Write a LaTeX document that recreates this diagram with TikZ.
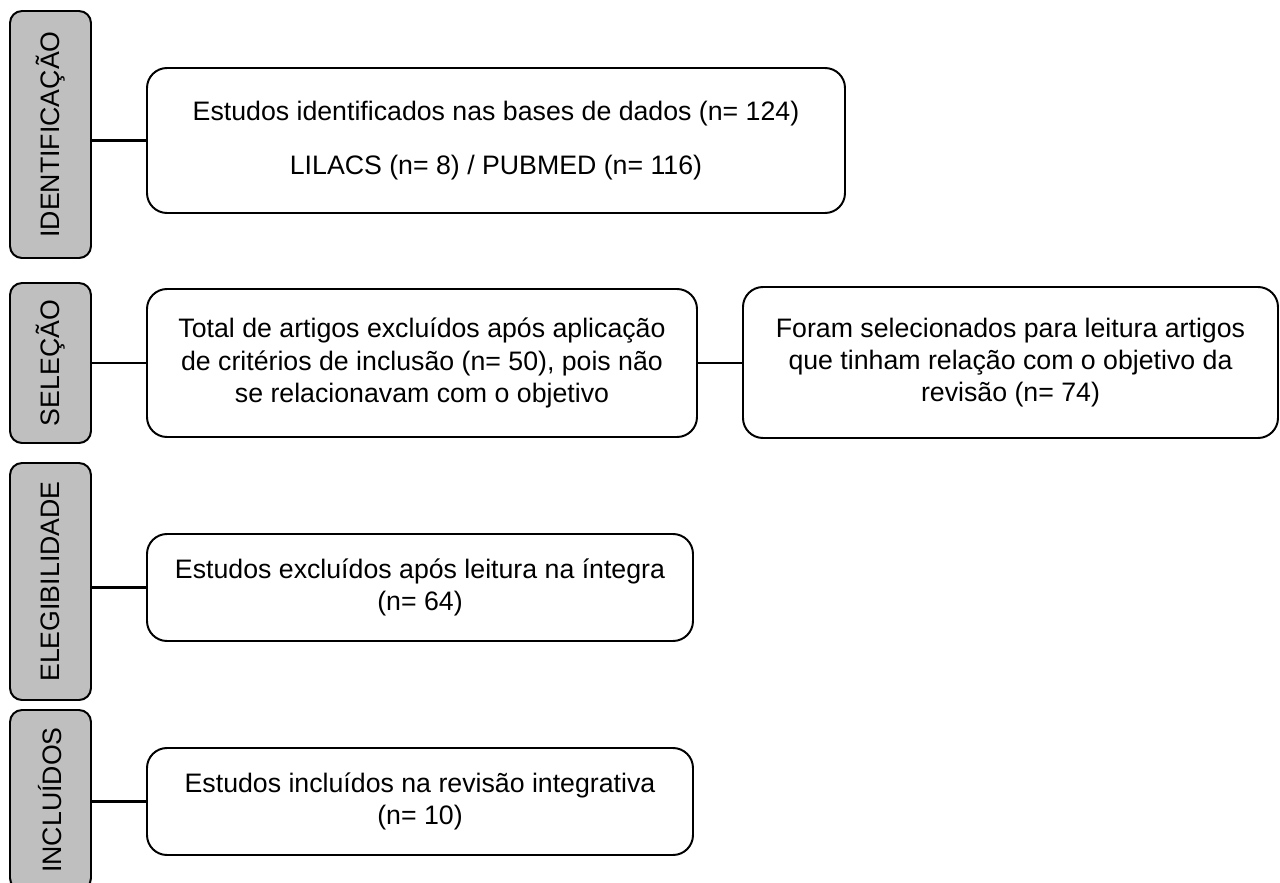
\documentclass[tikz,border=0pt]{standalone}
\usepackage{fontspec}
\setmainfont{Liberation Sans}
\usetikzlibrary{positioning}

\tikzset{
  etapa/.style={draw, line width=1.4pt, fill=gray!50, rounded corners=0.3cm,
    inner sep=0pt, minimum width=2.025cm},
  caixa/.style={draw, line width=1.4pt, rounded corners=0.5cm, align=center,
    inner sep=0pt},
  liga/.style={line width=1.5pt}
}

\begin{document}
\begin{tikzpicture}[font=\fontsize{19}{23}\selectfont]
  \useasboundingbox (0,0) rectangle (32,-22.075);

  % fases
  \node[etapa, minimum height=6.175cm] (ident) at (1.2625,-3.3625) {\rotatebox{90}{IDENTIFICAÇÃO}};
  \node[etapa, minimum height=4.0cm] (selec) at (1.2625,-9.075) {\rotatebox{90}{SELEÇÃO}};
  \node[etapa, minimum height=5.925cm] (eleg) at (1.2625,-14.5375) {\rotatebox{90}{ELEGIBILIDADE}};
  \node[etapa, minimum height=4.5cm] (incl) at (1.2625,-20.0) {\rotatebox{90}{INCLUÍDOS}};

  % caixas
  \node[caixa, minimum width=17.45cm, minimum height=3.625cm] (bases) at (12.4,-3.5125)
    {Estudos identificados nas bases de dados (n= 124)\\[0.55cm]
     LILACS (n= 8) / PUBMED (n= 116)};
  \node[caixa, minimum width=13.75cm, minimum height=3.7cm] (excl) at (10.55,-9.075)
    {Total de artigos excluídos após aplicação\\
     de critérios de inclusão (n= 50), pois não\\
     se relacionavam com o objetivo};
  \node[caixa, minimum width=13.375cm, minimum height=3.775cm] (sel) at (25.2625,-9.0625)
    {Foram selecionados para leitura artigos\\
     que tinham relação com o objetivo da\\
     revisão (n= 74)};
  \node[caixa, minimum width=13.65cm, minimum height=2.675cm] (integra) at (10.5,-14.6875)
    {Estudos excluídos após leitura na íntegra\\
     (n= 64)};
  \node[caixa, minimum width=13.65cm, minimum height=2.675cm] (inclu) at (10.5,-20.0375)
    {Estudos incluídos na revisão integrativa\\
     (n= 10)};

  % ligacoes
  \draw[liga] (bases.west) -- (bases.west -| ident.east);
  \draw[liga] (excl.west) -- (excl.west -| selec.east);
  \draw[liga] (excl.east) -- (excl.east -| sel.west);
  \draw[liga] (integra.west) -- (integra.west -| eleg.east);
  \draw[liga] (inclu.west) -- (inclu.west -| incl.east);
\end{tikzpicture}
\end{document}
